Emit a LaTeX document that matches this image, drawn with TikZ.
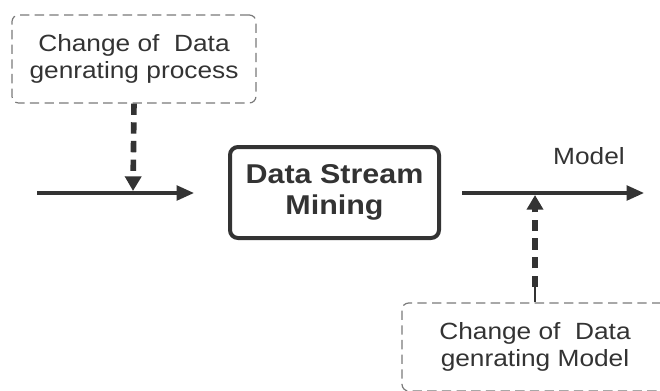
\documentclass[tikz,border=0pt]{standalone}
\usepackage{fontspec}
\setmainfont{Liberation Sans}[FakeStretch=1.12]
\usetikzlibrary{arrows.meta}
\definecolor{ink}{HTML}{333333}
\definecolor{boxgray}{HTML}{7A7A7A}
\begin{document}
\begin{tikzpicture}[x=0.75pt,y=-0.75pt,
  dashbox/.style={draw=boxgray, line width=0.9pt, dash pattern=on 7pt off 4pt, rounded corners=5pt,
    text=ink, align=center, font=\fontsize{17.6}{20.5}\selectfont, inner sep=0pt},
  mainbox/.style={draw=ink, line width=3pt, rounded corners=6pt, text=ink, align=center,
    font=\fontsize{20.4}{23.5}\selectfont\bfseries, inner sep=0pt},
  flow/.style={draw=ink, line width=2.4pt, -{Triangle[length=13pt,width=11pt]}},
  drift/.style={draw=ink, line width=4.2pt, dash pattern=on 8.5pt off 5.5pt, -{Triangle[length=11pt,width=12pt]}},
  thinline/.style={draw=ink, line width=0.8pt},
  lbl/.style={text=ink, font=\fontsize{17.6}{20}\selectfont, inner sep=0pt}]
\useasboundingbox (0,0) rectangle (660,390);
\clip (0,0) rectangle (660,390);
\node[dashbox, minimum width=244*0.75pt, minimum height=88*0.75pt] (top) at (134,59)
  {Change of \ Data\\genrating process};
\node[mainbox, minimum width=209*0.75pt, minimum height=91*0.75pt] (dsm) at (334.5,192.5)
  {Data Stream\\Mining};
\node[dashbox, minimum width=266*0.75pt, minimum height=88*0.75pt] (bot) at (535,347)
  {Change of \ Data\\genrating Model};
\node[lbl] (model) at (589,156) {Model};
\coordinate (inL) at (37,193);
\coordinate (inR) at (194,193);
\coordinate (outL) at (462,193);
\coordinate (outR) at (644,193);
\coordinate (j1) at (133,191);
\coordinate (j2) at (535,195);
\coordinate (c2) at (535,287);
\draw[flow] (inL) -- (inR);
\draw[flow] (outL) -- (outR);
\draw[drift] (top.south) -- (j1);
\draw[thinline] (bot.north) -- (c2);
\draw[drift] (c2) -- (j2);
\end{tikzpicture}
\end{document}
